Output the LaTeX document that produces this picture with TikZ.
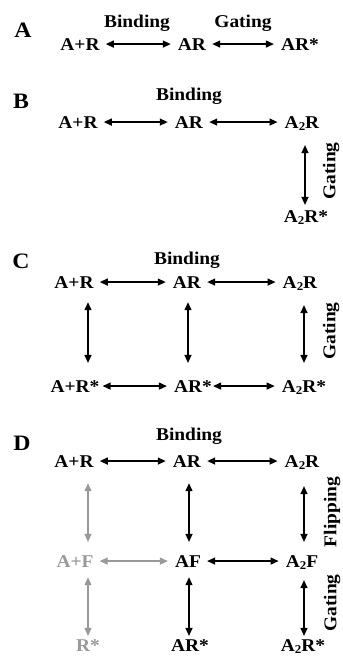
\documentclass[tikz,border=0pt]{standalone}
\usepackage{fontspec}
\setmainfont{Liberation Serif}[FakeStretch=1.08]
\usetikzlibrary{arrows.meta}
\newcommand{\subtwo}{\raisebox{-0.35ex}{\fontsize{12}{12}\selectfont 2}}
\begin{document}
\begin{tikzpicture}[x=1pt,y=-1pt,
  st/.style={font=\fontsize{18}{18}\selectfont\bfseries, anchor=base, inner sep=0pt},
  lab/.style={font=\fontsize{22}{22}\selectfont\bfseries, anchor=base, inner sep=0pt},
  proc/.style={font=\fontsize{18}{18}\selectfont\bfseries, anchor=base, inner sep=0pt},
  vproc/.style={font=\fontsize{18}{18}\selectfont\bfseries, inner sep=0pt, rotate=90, anchor=center},
  dbl/.style={{Triangle[length=8pt,width=7pt]}-{Triangle[length=8pt,width=7pt]}, line width=1.3pt},
  hz/.style={dbl, shorten <=6pt, shorten >=7pt},
  faded/.style={black!40},
  fadedline/.style={draw=black!40, fill=black!40}
]
\useasboundingbox (0,0) rectangle (343,657);
\clip (0,0) rectangle (343,657);

% ---------------- Panel A
\node[lab] (labA) at (23,37) {A};
\node[proc] (bindA) at (137,27) {Binding};
\node[proc] (gateA) at (243,27) {Gating};
\node[st] (aAR0) at (80,50) {A+R};
\node[st] (aAR1) at (192,50) {AR};
\node[st] (aARs) at (300,50) {AR*};
\draw[hz] (aAR0.east) -- (aAR0.east -| aAR1.west);
\draw[hz] (aAR1.east) -- (aAR1.east -| aARs.west);

% ---------------- Panel B
\node[lab] (labB) at (21,108) {B};
\node[proc] (bindB) at (189,100) {Binding};
\node[st] (bAR0) at (78,128) {A+R};
\node[st] (bAR1) at (189,128) {AR};
\node[st] (bAR2) at (302,128) {A\subtwo R};
\node[st] (bAR2s) at (306,222) {A\subtwo R*};
\node[vproc] (gateB) at (331,171) {Gating};
\coordinate (bx3) at (305,0);
\draw[hz] (bAR0.east) -- (bAR0.east -| bAR1.west);
\draw[hz] (bAR1.east) -- (bAR1.east -| bAR2.west);
\draw[dbl, shorten <=14pt, shorten >=5pt] (bAR2.south -| bx3) -- (bAR2s.north -| bx3);

% ---------------- Panel C
\node[lab] (labC) at (21,268) {C};
\node[proc] (bindC) at (187,264) {Binding};
\node[st] (cAR0) at (74,288) {A+R};
\node[st] (cAR1) at (187,288) {AR};
\node[st] (cAR2) at (300,288) {A\subtwo R};
\node[st] (cAR0s) at (75,392) {A+R*};
\node[st] (cAR1s) at (193,392) {AR*};
\node[st] (cAR2s) at (304,392) {A\subtwo R*};
\node[vproc] (gateC) at (331,331) {Gating};
\coordinate (cx1) at (88,0);
\coordinate (cx2) at (188,0);
\coordinate (cx3) at (304,0);
\draw[hz] (cAR0.east) -- (cAR0.east -| cAR1.west);
\draw[hz] (cAR1.east) -- (cAR1.east -| cAR2.west);
\draw[dbl, shorten <=3pt, shorten >=7pt] (cAR0s.east) -- (cAR0s.east -| cAR1s.west);
\draw[dbl, shorten <=1pt, shorten >=7pt] (cAR1s.east) -- (cAR1s.east -| cAR2s.west);
\draw[dbl, shorten <=14pt, shorten >=17pt] (cAR0.south -| cx1) -- (cAR0s.north -| cx1);
\draw[dbl, shorten <=14pt, shorten >=17pt] (cAR1.south -| cx2) -- (cAR1s.north -| cx2);
\draw[dbl, shorten <=14pt, shorten >=17pt] (cAR2.south -| cx3) -- (cAR2s.north -| cx3);

% ---------------- Panel D
\node[lab] (labD) at (22,450) {D};
\node[proc] (bindD) at (189,440) {Binding};
\node[st] (dAR0) at (74,467) {A+R};
\node[st] (dAR1) at (187,467) {AR};
\node[st] (dAR2) at (302,467) {A\subtwo R};
\node[st, faded] (dAF0) at (75,567) {A+F};
\node[st] (dAF1) at (188,567) {AF};
\node[st] (dAF2) at (302,567) {A\subtwo F};
\node[st, faded] (dRs0) at (88,651) {R*};
\node[st] (dRs1) at (190,651) {AR*};
\node[st] (dRs2) at (303,651) {A\subtwo R*};
\node[vproc] (flipD) at (332,512) {Flipping};
\node[vproc] (gateD) at (332,603) {Gating};
\coordinate (dx1) at (88,0);
\coordinate (dx2) at (189,0);
\coordinate (dx3) at (304,0);
\draw[hz] (dAR0.east) -- (dAR0.east -| dAR1.west);
\draw[hz] (dAR1.east) -- (dAR1.east -| dAR2.west);
\draw[hz, fadedline] (dAF0.east) -- (dAF0.east -| dAF1.west);
\draw[hz] (dAF1.east) -- (dAF1.east -| dAF2.west);
\draw[dbl, fadedline, shorten <=16pt, shorten >=13pt] (dAR0.south -| dx1) -- (dAF0.north -| dx1);
\draw[dbl, shorten <=16pt, shorten >=13pt] (dAR1.south -| dx2) -- (dAF1.north -| dx2);
\draw[dbl, shorten <=16pt, shorten >=13pt] (dAR2.south -| dx3) -- (dAF2.north -| dx3);
\draw[dbl, fadedline, shorten <=10pt, shorten >=3pt] (dAF0.south -| dx1) -- (dRs0.north -| dx1);
\draw[dbl, shorten <=10pt, shorten >=3pt] (dAF1.south -| dx2) -- (dRs1.north -| dx2);
\draw[dbl, shorten <=10pt, shorten >=3pt] (dAF2.south -| dx3) -- (dRs2.north -| dx3);
\end{tikzpicture}
\end{document}
